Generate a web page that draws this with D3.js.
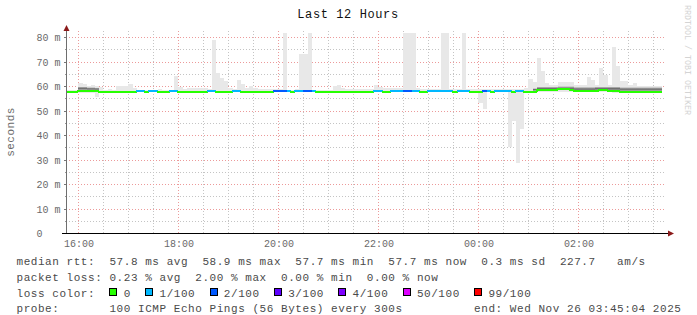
<!DOCTYPE html>
<html>
<head>
<meta charset="utf-8">
<script src="https://cdn.jsdelivr.net/npm/d3@7"></script>
<style>
body { margin: 0; background: #fff; }
svg { display: block; font-family: "Liberation Mono", "DejaVu Sans Mono", monospace; }
</style>
</head>
<body>
<script>
// ---- data (one value per 5 minute step, 15:45 .. 03:40) ----
var stepStart = new Date(2025, 10, 25, 15, 45, 0);
var graphStart = new Date(2025, 10, 25, 15, 45, 4);
var graphEnd = new Date(2025, 10, 26, 3, 45, 4);

// median rtt in ms
var median = [
  57.7,57.7,57.7,57.8,57.8,57.8,57.8,57.8,57.7,57.7,57.7,57.7,
  57.7,57.7,57.7,57.7,57.7,57.8,57.8,57.7,57.8,57.8,57.7,57.7,
  57.7,57.8,57.8,57.7,57.7,57.7,57.7,57.7,57.7,57.7,57.8,57.8,
  57.7,57.7,57.7,57.7,57.8,57.8,57.7,57.7,57.7,57.7,57.7,57.7,
  57.7,57.7,57.8,57.8,57.8,57.8,57.7,57.8,57.8,57.8,57.8,57.8,
  57.7,57.7,57.7,57.7,57.7,57.7,57.7,57.7,57.7,57.7,57.7,57.7,
  57.7,57.7,57.8,57.8,57.7,57.7,57.8,57.8,57.8,57.8,57.8,57.8,
  57.8,57.7,57.7,57.8,57.8,57.8,57.8,57.8,57.8,57.7,57.8,57.8,
  57.8,57.7,57.7,57.7,57.8,57.8,57.7,57.8,57.8,57.8,57.8,57.7,
  57.8,57.8,57.7,57.7,57.7,58.3,58.4,58.4,58.2,58.2,58.6,58.9,
  58.6,58.4,57.9,57.9,57.9,57.9,58.0,58.1,58.3,58.3,58.1,57.9,
  57.8,57.7,57.7,57.7,57.7,57.7,57.7,57.7,57.7,57.7,57.7,null
];

// slowest ping of the step (ms)
var pingMax = [
  58.3,58.4,58.4,61.3,60.8,60.0,60.4,60.0,59.5,58.4,58.8,58.4,
  60.0,60.0,60.0,60.8,59.0,58.4,58.4,58.4,58.4,58.4,58.6,58.4,
  58.4,58.4,64.2,59.7,58.8,59.0,59.0,59.0,59.0,59.3,58.6,78.8,
  65.2,63.4,62.0,59.0,58.7,62.4,60.8,59.0,60.0,59.2,58.6,58.6,
  58.6,58.6,58.6,58.6,81.7,58.5,58.5,58.7,73.0,73.0,81.7,58.5,
  58.5,58.5,58.5,58.5,60.0,60.4,59.3,58.6,58.6,58.6,58.6,58.6,
  58.7,58.7,60.4,59.7,59.2,59.2,59.2,59.2,59.2,81.7,81.7,81.7,
  59.2,58.6,58.6,58.6,58.6,58.6,81.7,81.7,58.6,58.6,58.6,81.7,
  58.6,58.6,58.6,58.6,58.6,58.6,58.6,58.6,58.6,58.6,58.6,58.6,
  58.6,58.6,59.2,62.8,61.8,71.5,66.1,61.1,60.6,60.6,61.8,61.8,
  61.8,61.8,60.4,60.4,60.4,63.8,62.4,60.4,67.5,64.5,60.4,76.0,
  68.3,62.0,62.0,60.4,61.1,60.2,60.2,60.2,60.2,60.2,60.2,null
];

// fastest ping of the step (ms)
var pingMin = [
  57.4,57.4,57.4,57.3,57.3,57.3,57.3,55.6,57.0,57.4,57.4,57.4,
  57.4,57.4,57.4,57.4,57.4,57.4,57.4,57.4,57.4,57.4,57.4,57.4,
  57.4,57.4,57.4,57.4,57.4,57.4,57.4,57.4,57.4,57.4,57.4,57.4,
  57.4,57.4,57.4,57.4,57.4,57.4,57.4,57.4,57.4,57.4,57.4,57.4,
  57.4,57.4,57.4,57.4,57.4,57.4,57.4,57.4,57.4,57.4,57.4,57.4,
  57.4,57.4,57.4,57.4,57.4,57.4,57.4,57.4,57.4,57.4,57.4,57.4,
  57.4,57.4,57.4,57.4,57.4,57.4,57.4,57.4,57.4,57.4,57.4,57.4,
  57.4,57.4,57.4,57.4,57.4,57.4,57.4,57.4,57.4,57.4,57.4,57.4,
  57.4,57.4,57.4,52.9,50.5,57.4,57.4,57.4,57.4,57.4,35.2,45.8,
  28.7,42.6,57.3,57.3,57.3,57.5,57.5,57.5,57.5,57.5,57.6,57.6,
  57.6,57.5,57.4,57.4,57.4,57.4,57.4,57.5,57.5,57.5,57.4,57.3,
  57.3,57.3,57.3,57.3,57.3,57.3,57.3,57.3,57.3,57.3,57.3,null
];

// dense part of the smoke (most pings), null where too thin to see
var denseLo = [
  null,null,null,58.3,58.3,58.2,58.2,58.2,null,null,null,null,
  null,null,null,null,null,null,null,null,null,null,null,null,
  null,null,null,null,null,null,null,null,null,null,null,null,
  null,null,null,null,null,null,null,null,null,null,null,null,
  null,null,null,null,null,null,null,null,null,null,null,null,
  null,null,null,null,null,null,null,null,null,null,null,null,
  null,null,null,null,null,null,null,null,null,null,null,null,
  null,null,null,null,null,null,null,null,null,null,null,null,
  null,null,null,null,null,null,null,null,null,null,null,null,
  null,null,null,null,58.0,58.0,58.0,58.0,58.0,58.0,58.2,58.2,
  58.2,58.2,57.9,57.9,57.9,57.9,57.9,58.0,58.0,58.0,58.0,58.0,
  58.0,57.9,57.9,57.9,57.9,57.9,57.9,57.9,57.9,57.9,57.9,null
];
var denseHi = [
  null,null,null,59.7,59.7,59.4,59.4,59.3,null,null,null,null,
  null,null,null,null,null,null,null,null,null,null,null,null,
  null,null,null,null,null,null,null,null,null,null,null,null,
  null,null,null,null,null,null,null,null,null,null,null,null,
  null,null,null,null,null,null,null,null,null,null,null,null,
  null,null,null,null,null,null,null,null,null,null,null,null,
  null,null,null,null,null,null,null,null,null,null,null,null,
  null,null,null,null,null,null,null,null,null,null,null,null,
  null,null,null,null,null,null,null,null,null,null,null,null,
  null,null,null,null,59.0,59.7,59.7,59.7,59.7,59.7,59.8,59.8,
  59.8,59.8,59.5,59.5,59.5,59.5,59.5,59.7,59.7,59.7,59.7,59.7,
  59.7,59.4,59.4,59.4,59.4,59.4,59.4,59.4,59.4,59.4,59.4,null
];

// packet loss class per step (index into lossLabels / lossColors)
var lossIdx = [
  0,0,0,0,0,0,0,0,0,0,0,0,
  0,0,0,0,0,1,1,0,1,1,0,0,
  0,1,1,0,0,0,0,0,0,0,1,1,
  0,0,0,0,1,1,0,0,0,0,0,0,
  0,0,2,2,2,1,0,1,1,2,2,1,
  0,0,0,0,0,0,0,0,0,0,0,0,
  0,0,1,1,0,0,1,1,1,2,2,1,
  1,0,0,1,1,1,1,1,1,0,1,1,
  1,0,0,0,2,1,0,1,1,1,1,0,
  1,1,0,0,0,0,0,0,0,0,0,0,
  0,0,0,0,0,0,0,0,0,0,0,0,
  0,0,0,0,0,0,0,0,0,0,0,null
];

var lossLabels = ["0", "1/100", "2/100", "3/100", "4/100", "50/100", "99/100"];
var lossColors = ["#26ff00", "#00b8ff", "#0059ff", "#5e00ff", "#7e00ff", "#dd00ff", "#ff0000"];

var yMajor = [0, 10, 20, 30, 40, 50, 60, 70, 80];
var yMinor = [5, 15, 25, 35, 45, 55, 65, 75];

var titleText = "Last 12 Hours";
var yLabel = "seconds";
var rrdCredit = "RRDTOOL / TOBI OETIKER";
var rttLine = "median rtt:  57.8 ms avg  58.9 ms max  57.7 ms min  57.7 ms now  0.3 ms sd  227.7   am/s";
var lossLine = "packet loss: 0.23 % avg  2.00 % max  0.00 % min  0.00 % now";
var probeLine = "probe:       100 ICMP Echo Pings (56 Bytes) every 300s";
var endLine = "end: Wed Nov 26 03:45:04 2025";

// ---- drawing ----
var width = 697, height = 315;
var plot = { left: 66, right: 666, top: 31, bottom: 233 };

var svg = d3.select("body").append("svg")
    .attr("width", width)
    .attr("height", height);

var x = d3.scaleTime().domain([graphStart, graphEnd]).range([plot.left, plot.right]);
var y = d3.scaleLinear().domain([0, 82.45]).range([plot.bottom, plot.top]);

function stepTime(i) { return d3.timeMinute.offset(stepStart, 5 * i); }
function px(v) { return Math.round(v) + 0.5; }

svg.append("clipPath").attr("id", "plotclip")
  .append("rect")
    .attr("x", plot.left + 1).attr("y", plot.top)
    .attr("width", plot.right - plot.left).attr("height", plot.bottom - plot.top);

// grid
var grid = svg.append("g").attr("shape-rendering", "crispEdges").attr("stroke-width", 1)
    .attr("stroke-dasharray", "1,2");
var xMinor = d3.timeMinute.every(30).range(graphStart, graphEnd);
var xMajor = d3.timeHour.every(2).range(graphStart, graphEnd);

grid.selectAll(".vminor").data(xMinor).join("line")
    .attr("x1", d => px(x(d))).attr("x2", d => px(x(d)))
    .attr("y1", plot.top).attr("y2", plot.bottom)
    .attr("stroke", "#c4c4c4");
grid.selectAll(".hminor").data(yMinor).join("line")
    .attr("x1", plot.left).attr("x2", plot.right)
    .attr("y1", d => px(y(d))).attr("y2", d => px(y(d)))
    .attr("stroke", "#c4c4c4");
grid.selectAll(".vmajor").data(xMajor).join("line")
    .attr("x1", d => px(x(d))).attr("x2", d => px(x(d)))
    .attr("y1", plot.top).attr("y2", plot.bottom)
    .attr("stroke", "#ec9a9a");
grid.selectAll(".hmajor").data(yMajor.filter(d => d > 0)).join("line")
    .attr("x1", plot.left).attr("x2", plot.right)
    .attr("y1", d => px(y(d))).attr("y2", d => px(y(d)))
    .attr("stroke", "#ec9a9a");

// smoke
var steps = d3.range(median.length).filter(i => median[i] !== null);
var data = svg.append("g").attr("clip-path", "url(#plotclip)");

var grad = svg.append("defs").append("linearGradient")
    .attr("id", "dense").attr("x1", 0).attr("x2", 0).attr("y1", 0).attr("y2", 1);
grad.append("stop").attr("offset", "0%").attr("stop-color", "#cfcfcf");
grad.append("stop").attr("offset", "45%").attr("stop-color", "#6a6a6a");
grad.append("stop").attr("offset", "100%").attr("stop-color", "#b5b5b5");

data.append("g").attr("shape-rendering", "crispEdges")
  .selectAll("rect").data(steps).join("rect")
    .attr("x", i => x(stepTime(i)))
    .attr("width", i => x(stepTime(i + 1)) - x(stepTime(i)))
    .attr("y", i => y(pingMax[i]))
    .attr("height", i => y(pingMin[i]) - y(pingMax[i]))
    .attr("fill", "#e8e8e8");

data.append("g").attr("shape-rendering", "crispEdges")
  .selectAll("rect").data(steps.filter(i => denseLo[i] !== null)).join("rect")
    .attr("x", i => x(stepTime(i)))
    .attr("width", i => x(stepTime(i + 1)) - x(stepTime(i)))
    .attr("y", i => y(denseHi[i]))
    .attr("height", i => y(denseLo[i]) - y(denseHi[i]))
    .attr("fill", "url(#dense)");

// median line, coloured by loss
data.append("g").attr("shape-rendering", "crispEdges")
  .selectAll("path").data(steps).join("path")
    .attr("d", function(i) {
      var prev = (i > 0 && median[i - 1] !== null) ? median[i - 1] : median[i];
      var x0 = Math.round(x(stepTime(i))), x1 = Math.round(x(stepTime(i + 1)));
      return "M" + x0 + "," + Math.round(y(prev)) + "V" + Math.round(y(median[i])) + "H" + x1;
    })
    .attr("fill", "none")
    .attr("stroke", i => lossColors[lossIdx[i]])
    .attr("stroke-width", 2);

// axes
var yAxis = svg.append("g").attr("transform", "translate(" + (plot.left + 0.5) + ",0)")
    .call(d3.axisLeft(y).tickValues(yMajor).tickSize(3)
      .tickFormat(d => d === 0 ? "0" : d + " m"));
yAxis.select(".domain").remove();
yAxis.selectAll("line").attr("stroke", "#777").attr("shape-rendering", "crispEdges");
yAxis.selectAll("text")
    .attr("x", 36.5 - plot.left - 0.5).attr("text-anchor", "start").attr("dy", "0.35em")
    .attr("fill", "#6a6a6a").style("font-family", "Liberation Mono").style("font-size", "10px");

svg.append("g").selectAll("line").data(yMinor).join("line")
    .attr("x1", plot.left - 1.5).attr("x2", plot.left + 0.5)
    .attr("y1", d => px(y(d))).attr("y2", d => px(y(d)))
    .attr("stroke", "#999").attr("shape-rendering", "crispEdges");

var xAxis = svg.append("g").attr("transform", "translate(0," + plot.bottom + ")")
    .call(d3.axisBottom(x).tickValues(xMajor).tickSize(0).tickPadding(7)
      .tickFormat(d3.timeFormat("%H:%M")));
xAxis.select(".domain").remove();
xAxis.selectAll("text")
    .attr("fill", "#6a6a6a").style("font-family", "Liberation Mono").style("font-size", "10px");

svg.append("line")
    .attr("x1", plot.left + 0.5).attr("x2", plot.left + 0.5)
    .attr("y1", plot.bottom).attr("y2", 28)
    .attr("stroke", "#6e6e6e").attr("shape-rendering", "crispEdges");
svg.append("line")
    .attr("x1", 62).attr("x2", 670)
    .attr("y1", plot.bottom + 0.5).attr("y2", plot.bottom + 0.5)
    .attr("stroke", "#000").attr("shape-rendering", "crispEdges");
svg.append("path")
    .attr("d", "M" + (plot.left + 0.5) + ",25 L" + (plot.left + 3.5) + ",31 L" + (plot.left - 2.5) + ",31 Z")
    .attr("fill", "#8b1a1a");
svg.append("path")
    .attr("d", "M674," + (plot.bottom + 0.5) + " L668," + (plot.bottom - 2.5) + " L668," + (plot.bottom + 3.5) + " Z")
    .attr("fill", "#8b1a1a");

// titles
svg.append("text")
    .attr("x", 348).attr("y", 17.5).attr("text-anchor", "middle")
    .style("font-size", "12px").style("letter-spacing", "0.6px")
    .attr("fill", "#111").text(titleText);

svg.append("text")
    .attr("transform", "translate(13.5," + ((plot.top + plot.bottom) / 2) + ") rotate(-90)")
    .attr("text-anchor", "middle")
    .style("font-size", "11px").style("letter-spacing", "0.5px")
    .attr("fill", "#6a6a6a").text(yLabel);

svg.append("text")
    .attr("transform", "translate(685,5) rotate(90)")
    .attr("textLength", 110).attr("lengthAdjust", "spacingAndGlyphs")
    .style("font-size", "8.5px")
    .attr("fill", "#d4d4d4").text(rrdCredit);

// legend, laid out on a monospace character grid
var charW = 7.15, legendX = 16.5;
var rowBase = [264.5, 280.5, 296.5, 311.5];
var legend = svg.append("g").attr("fill", "#4a4a4a")
    .style("font-size", "11px").style("letter-spacing", "0.55px");

function gridText(str, row) {
  var re = /\S+/g, m;
  while ((m = re.exec(str)) !== null) {
    legend.append("text")
        .attr("x", legendX + m.index * charW).attr("y", rowBase[row])
        .text(m[0]);
  }
}
gridText(rttLine, 0);
gridText(lossLine, 1);
gridText("loss color:", 2);
gridText(probeLine, 3);
legend.append("text")
    .attr("x", legendX + 64 * charW).attr("y", rowBase[3])
    .text(endLine);

var lossCols = [13, 18, 27, 36, 45, 54, 64];
var keys = legend.selectAll(".key").data(lossLabels).join("g");
keys.append("rect")
    .attr("x", (d, k) => Math.round(legendX + lossCols[k] * charW) + 0.5)
    .attr("y", rowBase[2] - 8.5)
    .attr("width", 7).attr("height", 7)
    .attr("fill", (d, k) => lossColors[k])
    .attr("stroke", "#000").attr("stroke-width", 1)
    .attr("shape-rendering", "crispEdges");
keys.append("text")
    .attr("x", (d, k) => legendX + (lossCols[k] + 2) * charW)
    .attr("y", rowBase[2])
    .text(d => d);
</script>
</body>
</html>
